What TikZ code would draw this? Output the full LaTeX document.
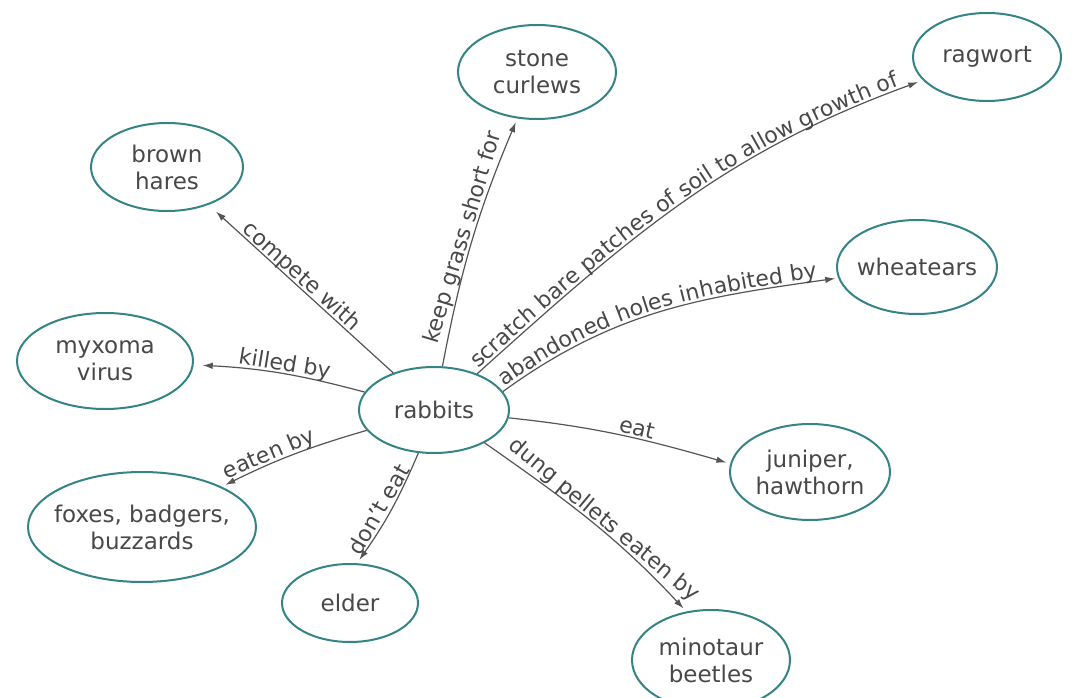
\documentclass[tikz,border=0pt]{standalone}
\usepackage{fontspec}
\setmainfont{DejaVu Sans}
\usetikzlibrary{arrows.meta,decorations.text,shapes.geometric}
\definecolor{teal1}{RGB}{52,132,134}
\definecolor{txtc}{RGB}{72,72,72}
\definecolor{linec}{RGB}{85,85,85}
\newcommand{\nodefont}{\fontsize{23}{27}\selectfont}
\newcommand{\labfont}{\fontsize{22}{26}\selectfont}
\begin{document}
\begin{tikzpicture}[x=1pt,y=1pt,
  bubble/.style={ellipse, draw=teal1, line width=2pt, fill=white, inner sep=0pt, align=center, text=txtc, font=\nodefont},
  edge/.style={draw=linec, line width=1.2pt, -{Latex[length=10pt,width=6.5pt]}},
  lbl/.style={sloped, anchor=south, text depth=0pt, inner sep=2.5pt, text=txtc, font=\labfont},
  pathtext/.style={decorate, decoration={text along path, text color=txtc, raise=3pt}}]
\fill[white] (0,0) rectangle (1072,697);
\useasboundingbox (0,0) rectangle (1072,697);

\node[bubble, minimum width=150pt, minimum height=86pt] (rabbits) at (434,287) {rabbits};
\node[bubble, minimum width=152pt, minimum height=88pt] (hares) at (167,530) {brown\\hares};
\node[bubble, minimum width=158pt, minimum height=94pt] (curlews) at (537,625) {stone\\curlews};
\node[bubble, minimum width=148pt, minimum height=88pt] (ragwort) at (987,640) {ragwort};
\node[bubble, minimum width=160pt, minimum height=94pt, inner sep=-4pt] (wheatears) at (917,430) {wheatears};
\node[bubble, minimum width=176pt, minimum height=96pt] (myxoma) at (105,336) {myxoma\\virus};
\node[bubble, minimum width=228pt, minimum height=110pt, inner sep=-10pt] (foxes) at (142,170) {foxes, badgers,\\buzzards};
\node[bubble, minimum width=136pt, minimum height=78pt] (elder) at (350,94) {elder};
\node[bubble, minimum width=160pt, minimum height=96pt] (juniper) at (810,225) {juniper,\\hawthorn};
\node[bubble, minimum width=158pt, minimum height=100pt] (minotaur) at (711,37) {minotaur\\beetles};

\draw[edge, shorten >=10pt] (rabbits) -- node[lbl, pos=0.53] {compete with} (hares);
\draw[edge, shorten >=9pt] (rabbits) to[bend right=6] node[lbl, pos=0.48] {killed by} (myxoma);
\draw[edge, shorten >=4pt] (rabbits) to[bend left=6] node[lbl, pos=0.5] {keep grass short for} (curlews);
\draw[edge, shorten >=5pt] (rabbits.40) to[out=42,in=200] (ragwort);
\path[pathtext, decoration={text={|\labfont|scratch bare patches of soil to allow growth of}, text align={left, left indent=4pt}}] (rabbits.40) to[out=42,in=200] (ragwort);
\draw[edge, shorten >=3pt] (rabbits.15) to[out=36,in=188] (wheatears);
\path[pathtext, decoration={text={|\labfont|abandoned holes inhabited by}, text align={left, left indent=4pt}}] (rabbits.15) to[out=36,in=188] (wheatears);
\draw[edge, shorten >=4pt] (rabbits.354) to[out=-6,in=164] node[lbl, pos=0.57] {eat} (juniper.174);
\draw[edge, shorten >=4pt] (rabbits.327) to[out=-35,in=133] node[lbl, pos=0.54] {dung pellets eaten by} (minotaur.117);
\draw[edge, shorten >=4pt] (rabbits.250) to[bend left=6] node[lbl, pos=0.55] {don't eat} (elder.80);
\draw[edge, shorten >=4pt] (rabbits) to[bend right=5] node[lbl, pos=0.65] {eaten by} (foxes);
\end{tikzpicture}
\end{document}
